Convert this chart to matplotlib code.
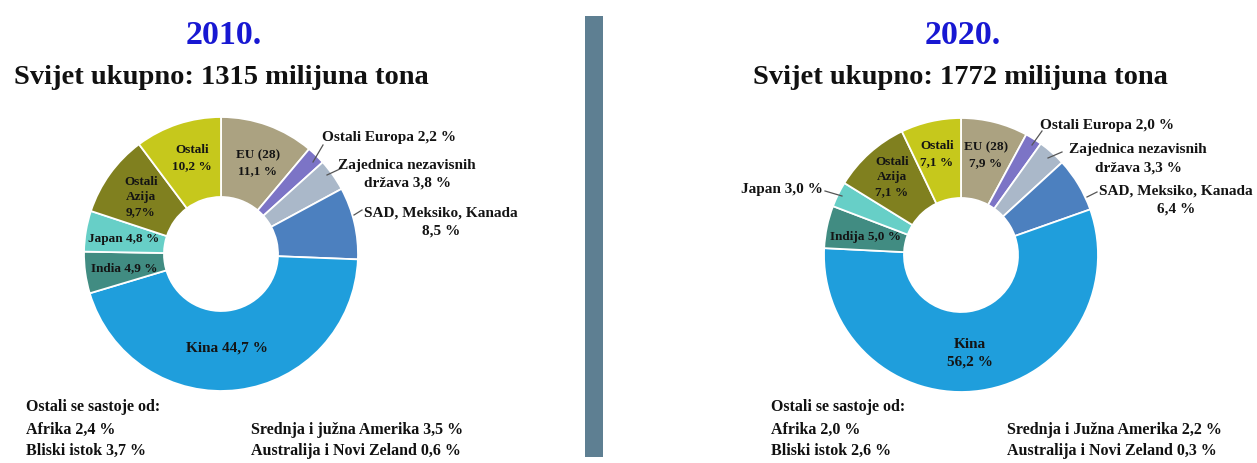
import matplotlib
matplotlib.use("Agg")
import matplotlib.pyplot as plt

# ---------------- data ----------------
regions = ["EU (28)", "Ostali Europa", "Zajednica nezavisnih država",
           "SAD, Meksiko, Kanada", "Kina", "India", "Japan",
           "Ostali Azija", "Ostali"]
# slice sizes as drawn in the reference
values_2010 = [11.1, 2.2, 3.8, 8.5, 44.7, 4.9, 4.8, 9.7, 10.2]
values_2020 = [7.9, 2.0, 3.3, 6.4, 56.2, 5.0, 3.0, 9.1, 7.1]
# percentages as printed on the reference labels
printed_2010 = [11.1, 2.2, 3.8, 8.5, 44.7, 4.9, 4.8, 9.7, 10.2]
printed_2020 = [7.9, 2.0, 3.3, 6.4, 56.2, 5.0, 3.0, 7.1, 7.1]
total_2010 = 1315
total_2020 = 1772

others_names_2010 = ["Afrika", "Bliski istok", "Srednja i južna Amerika", "Australija i Novi Zeland"]
others_names_2020 = ["Afrika", "Bliski istok", "Srednja i Južna Amerika", "Australija i Novi Zeland"]
others_2010 = [2.4, 3.7, 3.5, 0.6]
others_2020 = [2.0, 2.6, 2.2, 0.3]

colors = ["#ABA281", "#7C74C6", "#AAB8C9", "#4C80BF", "#1F9EDC",
          "#418C82", "#67CFC7", "#80801F", "#C6C81C"]

# label templates (text layout of the reference)
tmpl_2010 = ["EU (28)\n{} %", "Ostali Europa {} %", "Zajednica nezavisnih\ndržava {} %",
             "SAD, Meksiko, Kanada\n{} %", "Kina {} %", "India {} %", "Japan {} %",
             "Ostali\nAzija\n{}%", "Ostali\n{} %"]
tmpl_2020 = ["EU (28)\n{} %", "Ostali Europa {} %", "Zajednica nezavisnih\ndržava {} %",
             "SAD, Meksiko, Kanada\n{} %", "Kina\n{} %", "Indija {} %", "Japan {} %",
             "Ostali\nAzija\n{} %", "Ostali\n{} %"]

# ---------------- layout (pixels, y from top) ----------------
W, H = 1257, 463
FONT = "Liberation Serif"
LS_IN, LS_OUT = 1.38, 1.5

def fmt(v):
    return f"{v:.1f}".replace(".", ",")

layout_2010 = dict(
    center=(221, 254), title_x=224,
    labels=[  # (x, y, ha, fontsize, linespacing, leader)
        (258, 163, "center", 9.5, LS_IN, None),
        (322, 138, "left", 11, LS_OUT, ((323, 145), (313, 162))),
        (407, 174, "center", 11, LS_OUT, ((342, 168), (327, 175))),
        (441, 222, "center", 11, LS_OUT, ((362, 210), (354, 215))),
        (227, 348, "center", 11, LS_OUT, None),
        (124, 268, "center", 9.5, LS_IN, None),
        (124, 239, "center", 9.5, LS_IN, None),
        (141, 197, "center", 9.5, LS_IN, None),
        (192, 158, "center", 9.5, LS_IN, None),
    ],
    notes_x=(26, 251),
)
layout_2020 = dict(
    center=(961, 255), title_x=963,
    labels=[
        (986, 155, "center", 9.5, LS_IN, None),
        (1040, 125, "left", 11, LS_OUT, ((1042, 131), (1032, 145))),
        (1138, 159, "center", 11, LS_OUT, ((1062, 152), (1048, 158))),
        (1176, 200, "center", 11, LS_OUT, ((1097, 192), (1087, 197))),
        (970, 353, "center", 11, LS_OUT, None),
        (866, 237, "center", 9.5, LS_IN, None),
        (823, 190, "right", 11, LS_OUT, ((825, 191), (842, 196))),
        (892, 177, "center", 9.5, LS_IN, None),
        (937, 154, "center", 9.5, LS_IN, None),
    ],
    notes_x=(771, 1007),
)

fig = plt.figure(figsize=(W / 100, H / 100), dpi=100)
ax = fig.add_axes([0, 0, 1, 1])


def draw(values, printed, tmpl, lay, year, total, onames, ovals):
    cx, cy = lay["center"]
    ax.pie(values, colors=colors, startangle=90, counterclock=False,
           center=(cx, H - cy), radius=137,
           wedgeprops=dict(width=80, edgecolor="white", linewidth=1.3))
    for p, t, (x, y, ha, fs, ls, lead) in zip(printed, tmpl, lay["labels"]):
        ax.text(x, H - y, t.format(fmt(p)), ha=ha, va="center", fontsize=fs,
                family=FONT, weight="bold", color="#141414",
                linespacing=ls, multialignment="center")
        if lead is not None:
            (x0, y0), (x1, y1) = lead
            ax.plot([x0, x1], [H - y0, H - y1], color="#555555", lw=0.9)
    ax.text(lay["title_x"], H - 36, f"{year}.", ha="center", va="center",
            fontsize=24.5, family=FONT, weight="bold", color="#1818D2")
    ax.text(lay["title_x"] - 3, H - 78, f"Svijet ukupno: {total} milijuna tona",
            ha="center", va="center", fontsize=20.5, family=FONT,
            weight="bold", color="#111111")
    x1, x2 = lay["notes_x"]
    ax.text(x1, H - 407, "Ostali se sastoje od:", ha="left", va="center",
            fontsize=11.5, family=FONT, weight="bold", color="#111111")
    pos = [(x1, 430), (x1, 451), (x2, 430), (x2, 451)]
    for n, v, (x, y) in zip(onames, ovals, pos):
        ax.text(x, H - y, f"{n} {fmt(v)} %", ha="left", va="center",
                fontsize=11.5, family=FONT, weight="bold", color="#111111")


draw(values_2010, printed_2010, tmpl_2010, layout_2010, 2010, total_2010,
     others_names_2010, others_2010)
draw(values_2020, printed_2020, tmpl_2020, layout_2020, 2020, total_2020,
     others_names_2020, others_2020)

# divider bar
ax.add_patch(plt.Rectangle((585, H - 457), 18, 441, color="#5E7F92", lw=0))

ax.set_xlim(0, W)
ax.set_ylim(0, H)
ax.set_aspect("auto")
ax.axis("off")
fig.savefig("out.png", dpi=100)
